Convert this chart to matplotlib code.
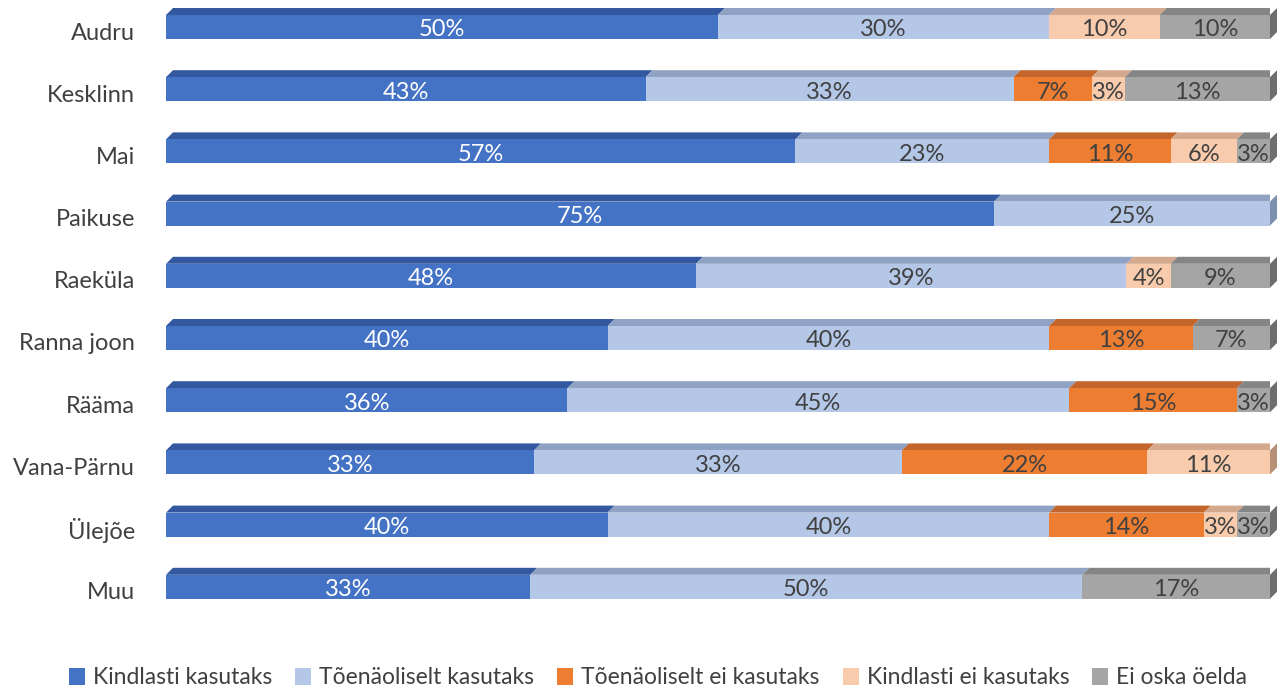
import matplotlib.pyplot as plt
from matplotlib.patches import Polygon, Patch

# answers per district, percent of respondents
categories = ["Audru", "Kesklinn", "Mai", "Paikuse", "Raeküla",
              "Ranna joon", "Rääma", "Vana-Pärnu", "Ülejõe", "Muu"]
kindlasti_kasutaks = [50, 43, 57, 75, 48, 40, 36, 33, 40, 33]
toen_kasutaks = [30, 33, 23, 25, 39, 40, 45, 33, 40, 50]
toen_ei_kasutaks = [0, 7, 11, 0, 0, 13, 15, 22, 14, 0]
kindlasti_ei_kasutaks = [10, 3, 6, 0, 4, 0, 0, 11, 3, 0]
ei_oska = [10, 13, 3, 0, 9, 7, 3, 0, 3, 17]

series_names = ["Kindlasti kasutaks", "Tõenäoliselt kasutaks",
                "Tõenäoliselt ei kasutaks", "Kindlasti ei kasutaks",
                "Ei oska öelda"]
series = [kindlasti_kasutaks, toen_kasutaks, toen_ei_kasutaks,
          kindlasti_ei_kasutaks, ei_oska]

face_cols = ["#4472C4", "#B4C7E7", "#ED7D31", "#F8CBAD", "#A5A5A5"]
top_cols = ["#3358A0", "#8FA2C4", "#C4652B", "#D4A88C", "#858585"]
side_cols = ["#2B4A87", "#7D8FAE", "#A85522", "#B89078", "#6E6E6E"]
text_cols = ["white", "#404040", "#404040", "#404040", "#404040"]

font = ["Lato", "DejaVu Sans"]
W, H = 1283, 686
fig = plt.figure(figsize=(W / 100, H / 100), dpi=100)

# axes placed so that 0..100 % runs from x=166 px to x=1270 px
left_px, right_px = 166, 1270
ax = fig.add_axes([left_px / W, 0, (right_px - left_px) / W, 1])
step = 62.2
top_px = 27
ax.set_xlim(0, 100)
ax.set_ylim((H - top_px) / step, -top_px / step)
ax.axis("off")

px_x = 100 / (right_px - left_px)
px_y = 1 / step
depth = 7
dx, dy = depth * px_x, depth * px_y
bar_h = 24 * px_y

for i, cat in enumerate(categories):
    vals = [s[i] for s in series]
    total = sum(vals)
    yt, yb = i - bar_h / 2, i + bar_h / 2
    left = 0
    last = None
    for k, v in enumerate(vals):
        if v == 0:
            continue
        w = v / total * 100
        ax.barh(i, w, left=left, height=bar_h, color=face_cols[k],
                edgecolor="none", zorder=2)
        ax.add_patch(Polygon([(left, yt), (left + w, yt),
                              (left + w + dx, yt - dy), (left + dx, yt - dy)],
                             closed=True, facecolor=top_cols[k],
                             edgecolor="none", zorder=1))
        ax.text(left + w / 2, i + 3 * px_y, f"{v}%", ha="center",
                va="center", fontsize=17, color=text_cols[k], family=font,
                zorder=3)
        left += w
        last = k
    # right side of the bar
    ax.add_patch(Polygon([(100, yt), (100 + dx, yt - dy),
                          (100 + dx, yb - dy), (100, yb)],
                         closed=True, facecolor=side_cols[last],
                         edgecolor="none", zorder=1, clip_on=False))
    ax.text(-31 * px_x, i + 6 * px_y, cat, ha="right", va="center",
            fontsize=17, color="#404040", family=font, clip_on=False)

handles = [Patch(facecolor=c, edgecolor="none") for c in face_cols]
fig.legend(handles, series_names, loc="center", ncol=5,
           bbox_to_anchor=(0.513, 1 - 678 / H), frameon=False,
           handlelength=0.7, handleheight=0.7, handletextpad=0.35,
           columnspacing=1.0, prop={"family": font, "size": 16.5},
           labelcolor="#404040")

fig.savefig("out.png", dpi=100)
